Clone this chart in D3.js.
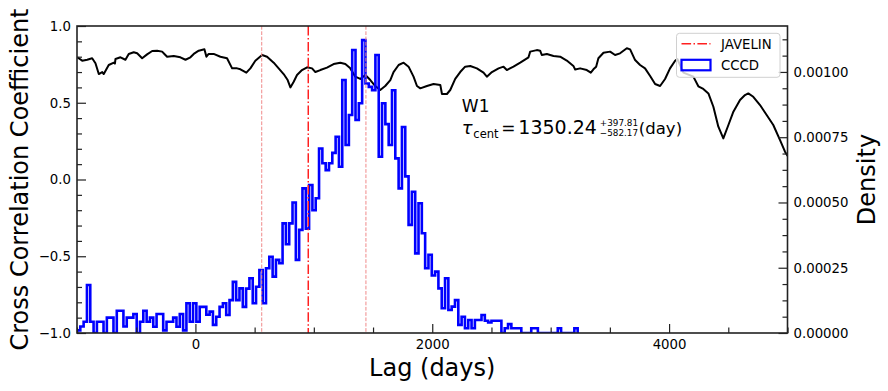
<!DOCTYPE html>
<html>
<head>
<meta charset="utf-8">
<script src="https://cdn.jsdelivr.net/npm/d3@7"></script>
<style>
  body { margin: 0; background: #fff; }
  svg text { font-family: "DejaVu Sans", sans-serif; fill: #000; }
</style>
</head>
<body>
<svg id="chart" width="888" height="391"></svg>
<script>
// cross correlation function, lag in days
var ccfLag = [-998,-956,-914,-872,-844,-816,-787,-774,-732,-689,-680,-675,-633,-591,-563,-521,-492,-450,-408,-365,-323,-281,-262,-239,-183,-127,-84,-42,-14,28,76,93,112,154,211,267,310,352,380,430,464,506,563,605,661,703,745,779,802,830,858,900,943,985,1013,1055,1111,1167,1224,1266,1308,1350,1392,1435,1477,1519,1561,1603,1646,1673,1716,1758,1800,1842,1871,1899,1955,2011,2068,2082,2124,2152,2194,2236,2278,2321,2377,2433,2461,2504,2560,2602,2630,2686,2743,2813,2827,2883,2911,2925,2968,3024,3080,3136,3192,3207,3249,3305,3339,3361,3384,3403,3446,3502,3544,3586,3643,3671,3713,3755,3797,3840,3882,3924,3966,4008,4051,4070,4121,4205,4247,4289,4332,4374,4416,4458,4501,4543,4599,4641,4669,4711,4768,4824,4880,4937,4979,5001];
var ccfR = [0.796,0.774,0.78,0.79,0.757,0.687,0.70,0.687,0.746,0.761,0.755,0.785,0.796,0.78,0.818,0.829,0.822,0.79,0.815,0.837,0.839,0.833,0.818,0.80,0.805,0.796,0.78,0.796,0.818,0.839,0.848,0.80,0.818,0.818,0.80,0.79,0.724,0.724,0.718,0.696,0.724,0.774,0.811,0.80,0.761,0.724,0.687,0.648,0.600,0.637,0.681,0.713,0.731,0.724,0.70,0.713,0.729,0.752,0.761,0.752,0.724,0.67,0.655,0.681,0.648,0.609,0.583,0.609,0.648,0.70,0.746,0.761,0.735,0.67,0.609,0.594,0.609,0.622,0.616,0.557,0.557,0.583,0.655,0.70,0.735,0.739,0.724,0.696,0.67,0.70,0.724,0.735,0.713,0.735,0.761,0.796,0.833,0.843,0.839,0.811,0.818,0.805,0.80,0.775,0.74,0.716,0.724,0.713,0.696,0.718,0.735,0.79,0.826,0.833,0.811,0.822,0.855,0.848,0.778,0.746,0.724,0.674,0.622,0.609,0.655,0.724,0.774,0.785,0.696,0.67,0.607,0.59,0.561,0.474,0.344,0.268,0.355,0.442,0.518,0.55,0.561,0.539,0.485,0.42,0.355,0.257,0.181,0.153];

// CCCD histogram: first bin edge, bin width (days), density in units of 1e-5
var cccdStart = -1000;
var cccdBinWidth = 28;
var cccdDensity = [1,2.5,4.3,18.4,4.3,0,4.3,4.3,0,5.9,5.9,0,8.5,8.5,2.5,5.9,5.9,7.3,0,4.3,
  8.5,4.3,5.9,2.4,7.3,7.3,1,4.3,4.3,5.9,2.4,7.3,1,11.4,4.3,11.4,4.3,10,10,7,
  8.2,3.1,6.2,10,11.4,6.9,12.6,19.6,12.6,17.1,10,17,21,11.4,17.7,24.1,11.4,24.8,29.2,21.6,
  28,26.7,42,34,42,50,28,39.5,55.4,40,56.7,47,51.6,70.7,65,62.4,65,69,75.2,63.7,
  96.9,72,83.5,108.4,81.6,88,112.2,95.6,94.3,93,106.5,67.5,88,80,72,93,66.9,55.4,78.9,60,
  41.4,54.1,30.5,49.7,38.2,24.8,30,22,23.5,17.1,9.5,21,8.8,10.1,12.6,3.1,6.2,1.8,5,1.8,
  5,5,6.9,4.7,4,4.7,4.7,4.7,0,1.8,3.4,1.8,1.8,1.8,0,0,0,1.8,1.8,0,
  0,0,0,0,0,1.8,0,0,0,0,1.8];

var javelinLag = 953;
var errLags = [560, 1440];

var xMajor = [0, 2000, 4000];
var yLeftMajor = [-1, -0.5, 0, 0.5, 1];
var yRightMajor = [0, 0.00025, 0.0005, 0.00075, 0.001];

var label = "W1";
var tauVal = "1350.24", tauUp = "+397.81", tauDown = "\u2212582.17";

var W = 888, H = 391;
var m = {left: 77, right: 100.5, top: 26, bottom: 58};
var svg = d3.select("#chart");

var x = d3.scaleLinear().domain([-1000, 5000]).range([m.left, W - m.right]);
var yL = d3.scaleLinear().domain([-1, 1]).range([H - m.bottom, m.top]);
var yR = d3.scaleLinear().domain([0, 0.001176]).range([H - m.bottom, m.top]);

svg.append("clipPath").attr("id", "clip").append("rect")
  .attr("x", m.left).attr("y", m.top)
  .attr("width", W - m.left - m.right).attr("height", H - m.top - m.bottom);

var plot = svg.append("g").attr("clip-path", "url(#clip)");

// CCF line
var ccf = ccfLag.map(function(d, i){ return [d, ccfR[i]]; });
plot.append("path")
  .attr("d", d3.line().x(function(d){return x(d[0]);}).y(function(d){return yL(d[1]);})(ccf))
  .attr("fill", "none").attr("stroke", "#000").attr("stroke-width", 2)
  .attr("stroke-linejoin", "round");

// step histogram
var steps = [[cccdStart, 0]];
cccdDensity.forEach(function(v, i){
  var a = cccdStart + i * cccdBinWidth;
  steps.push([a, v * 1e-5]);
  steps.push([a + cccdBinWidth, v * 1e-5]);
});
steps.push([cccdStart + cccdDensity.length * cccdBinWidth, 0]);
plot.append("path")
  .attr("d", d3.line().x(function(d){return x(d[0]);}).y(function(d){return yR(d[1]);})(steps))
  .attr("fill", "none").attr("stroke", "#0000ff").attr("stroke-width", 2.6)
  .attr("stroke-linejoin", "miter");

// vertical lines
errLags.forEach(function(l){
  plot.append("line").attr("x1", x(l)).attr("x2", x(l))
    .attr("y1", m.top).attr("y2", H - m.bottom)
    .attr("stroke", "#f08a8a").attr("stroke-width", 1)
    .attr("stroke-dasharray", "3.7,1.6");
});
plot.append("line").attr("x1", x(javelinLag)).attr("x2", x(javelinLag))
  .attr("y1", m.top).attr("y2", H - m.bottom)
  .attr("stroke", "#ff2020").attr("stroke-width", 1.5)
  .attr("stroke-dasharray", "9.6,2.4,1.5,2.4");

// axes
function style(g, size) {
  g.select(".domain").remove();
  g.attr("font-family", "DejaVu Sans").attr("font-size", size).attr("color", "#222");
  g.selectAll(".tick line").attr("stroke-width", 1.2);
  g.selectAll(".tick text").attr("fill", "#000");
}
var fs = 13.3;

var xMinor = d3.range(-1000, 5001, 500).filter(function(v){ return xMajor.indexOf(v) < 0; });
svg.append("g").attr("transform", "translate(0," + (H - m.bottom) + ")")
  .call(d3.axisBottom(x).tickValues(xMinor).tickSize(-5.5).tickFormat(""))
  .call(style, fs);
svg.append("g").attr("transform", "translate(0," + (H - m.bottom) + ")")
  .call(d3.axisBottom(x).tickValues(xMajor).tickSize(-9).tickPadding(7).tickFormat(d3.format("d")))
  .call(style, fs);

var yLMinor = d3.range(-10, 11).map(function(v){ return v / 10; })
  .filter(function(v){ return v * 2 !== Math.round(v * 2); });
svg.append("g").attr("transform", "translate(" + m.left + ",0)")
  .call(d3.axisLeft(yL).tickValues(yLMinor).tickSize(-5).tickFormat(""))
  .call(style, fs);
svg.append("g").attr("transform", "translate(" + m.left + ",0)")
  .call(d3.axisLeft(yL).tickValues(yLeftMajor).tickSize(-9).tickPadding(6).tickFormat(d3.format(".1f")))
  .call(style, fs);

var yRMinor = d3.range(1, 19).map(function(v){ return v * 0.0000625; })
  .filter(function(v){ return Math.abs(v / 0.00025 - Math.round(v / 0.00025)) > 1e-6; });
svg.append("g").attr("transform", "translate(" + (W - m.right) + ",0)")
  .call(d3.axisRight(yR).tickValues(yRMinor).tickSize(-5).tickFormat(""))
  .call(style, fs);
svg.append("g").attr("transform", "translate(" + (W - m.right) + ",0)")
  .call(d3.axisRight(yR).tickValues(yRightMajor).tickSize(-9).tickPadding(6).tickFormat(d3.format(".5f")))
  .call(style, fs);

// frame
svg.append("rect").attr("x", m.left).attr("y", m.top)
  .attr("width", W - m.left - m.right).attr("height", H - m.top - m.bottom)
  .attr("fill", "none").attr("stroke", "#222").attr("stroke-width", 1.6);

// axis labels
svg.append("text").attr("x", (m.left + W - m.right) / 2).attr("y", 376)
  .attr("text-anchor", "middle").attr("font-size", 24).text("Lag (days)");
svg.append("text").attr("transform", "translate(28," + ((m.top + H - m.bottom) / 2) + ") rotate(-90)")
  .attr("text-anchor", "middle").attr("font-size", 24).text("Cross Correlation Coefficient");
svg.append("text").attr("transform", "translate(875," + ((m.top + H - m.bottom) / 2) + ") rotate(-90)")
  .attr("text-anchor", "middle").attr("font-size", 24).text("Density");

// annotation
var ax0 = x(2250);
svg.append("text").attr("x", ax0).attr("y", 112).attr("font-size", 17).text(label);
var base = 134;
var t = svg.append("g");
t.append("text").attr("x", ax0).attr("y", base).attr("font-size", 18)
  .attr("font-style", "italic").text("\u03c4");
t.append("text").attr("x", ax0 + 11.5).attr("y", base + 3.5).attr("font-size", 11.5).text("cent");
t.append("text").attr("x", ax0 + 39.5).attr("y", base).attr("font-size", 17).text("=");
t.append("text").attr("x", ax0 + 56.5).attr("y", base).attr("font-size", 19).text(tauVal);
t.append("text").attr("x", ax0 + 138).attr("y", base - 8).attr("font-size", 8.8).text(tauUp);
t.append("text").attr("x", ax0 + 138).attr("y", base + 1.5).attr("font-size", 8.8).text(tauDown);
t.append("text").attr("x", ax0 + 177).attr("y", base).attr("font-size", 16.5).text("(day)");

// legend
var lg = svg.append("g").attr("transform", "translate(676.5,33.3)");
lg.append("rect").attr("width", 103.5).attr("height", 44).attr("rx", 3)
  .attr("fill", "#fff").attr("fill-opacity", 0.8).attr("stroke", "#d0d0d0").attr("stroke-width", 1);
lg.append("line").attr("x1", 5).attr("x2", 34).attr("y1", 10.5).attr("y2", 10.5)
  .attr("stroke", "#ff2020").attr("stroke-width", 1.5).attr("stroke-dasharray", "9.6,2.4,1.5,2.4");
lg.append("text").attr("x", 44.5).attr("y", 15.3).attr("font-size", fs).text("JAVELIN");
lg.append("rect").attr("x", 5).attr("y", 26.5).attr("width", 29).attr("height", 10.5)
  .attr("fill", "none").attr("stroke", "#0000ff").attr("stroke-width", 2.2);
lg.append("text").attr("x", 44.5).attr("y", 36.5).attr("font-size", fs).text("CCCD");
</script>
</body>
</html>
